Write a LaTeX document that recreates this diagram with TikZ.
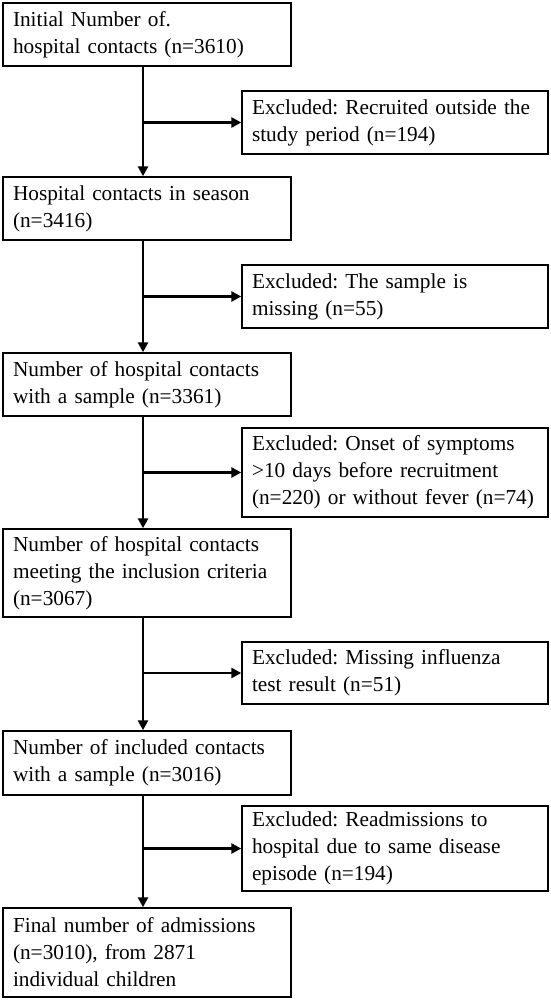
\documentclass[tikz,border=0pt]{standalone}
\usepackage{fontspec}
\setmainfont{Liberation Serif}
\usetikzlibrary{arrows.meta}
\begin{document}
\frenchspacing
\begin{tikzpicture}[x=1pt,y=-1pt,
  box/.style={draw, line width=1.4pt, inner sep=0pt, align=left,
    font=\fontsize{21.3}{27}\selectfont\frenchspacing},
  lbox/.style={box, minimum width=288pt, text width=268pt},
  rbox/.style={box, minimum width=306pt, text width=286pt},
  conn/.style={line width=2.6pt, -{Triangle[length=10pt,width=10pt]}}]
\useasboundingbox (0,0) rectangle (551,1001);
\node[lbox, minimum height=63pt] (b1) at (147,34.5) {Initial Number of.\\hospital contacts (n=3610)};
\node[lbox, minimum height=63pt] (b2) at (147,208.5) {Hospital contacts in season\\(n=3416)};
\node[lbox, minimum height=63pt] (b3) at (147,384.5) {Number of hospital contacts\\with a sample (n=3361)};
\node[lbox, minimum height=88pt] (b4) at (147,573) {Number of hospital contacts\\meeting the inclusion criteria\\(n=3067)};
\node[lbox, minimum height=64pt] (b5) at (147,763) {Number of included contacts\\with a sample (n=3016)};
\node[lbox, minimum height=89pt] (b6) at (147,952.5) {Final number of admissions\\(n=3010), from 2871\\individual children};
\node[rbox, minimum height=63pt] (r1) at (395,122.5) {Excluded: Recruited outside the\\study period (n=194)};
\node[rbox, minimum height=63pt] (r2) at (395,296.5) {Excluded: The sample is\\missing (n=55)};
\node[rbox, minimum height=89pt] (r3) at (395,472.5) {Excluded: Onset of symptoms\\>10 days before recruitment\\(n=220) or without fever (n=74)};
\node[rbox, minimum height=62pt] (r4) at (395,673) {Excluded: Missing influenza\\test result (n=51)};
\node[rbox, minimum height=85pt] (r5) at (395,848.5) {Excluded: Readmissions to\\hospital due to same disease\\episode (n=194)};
\coordinate (t) at (143,0);
\foreach \a/\b/\r in {b1/b2/r1, b2/b3/r2, b3/b4/r3, b4/b5/r4, b5/b6/r5} {
  \draw[conn] (\a.south -| t) -- (\b.north -| t);
  \draw[conn] (t |- \r.west) -- (\r.west);
}
\end{tikzpicture}
\end{document}
